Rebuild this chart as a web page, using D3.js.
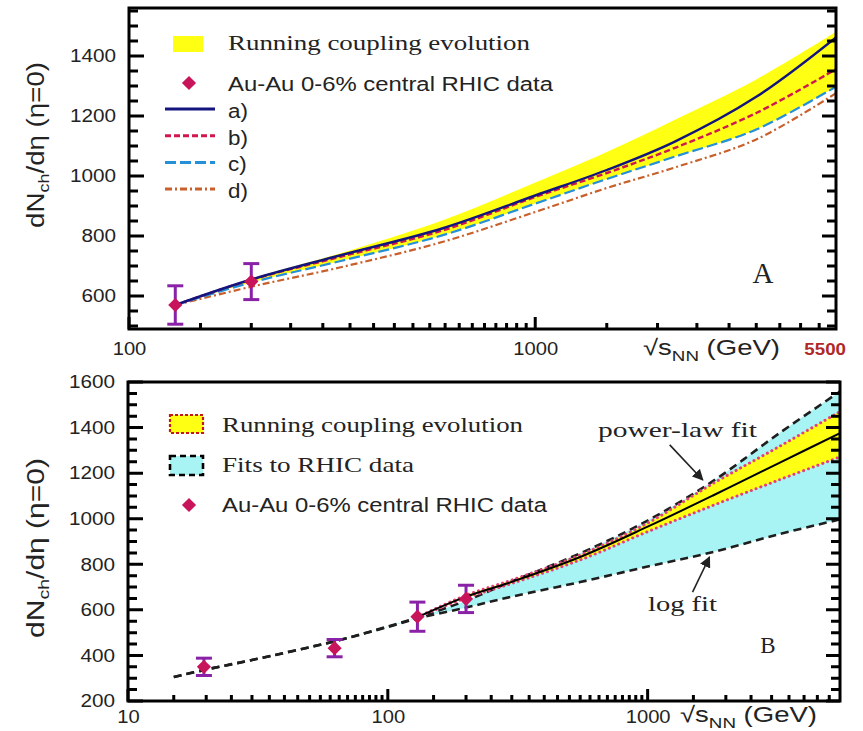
<!DOCTYPE html>
<html>
<head>
<meta charset="utf-8">
<script src="https://cdn.jsdelivr.net/npm/d3@7"></script>
<style>
  body { margin: 0; background: #fff; }
  text { fill: #232323; }
</style>
</head>
<body>
<svg id="chart" width="863" height="731"></svg>
<script>
// ---------- data ----------
// RHIC Au-Au 0-6% central: sqrt(s_NN) [GeV], dN_ch/deta at eta=0, error
const rhicEnergy = [19.6, 62.4, 130, 200];
const rhicMult   = [350, 432, 570, 648];
const rhicErr    = [38, 38, 64, 60];

// Panel A: running coupling evolution curves
const evoEnergy = [130, 200, 330, 590, 1000, 1500, 2200, 3500, 5500];
const curveA    = [570, 655, 735, 825, 935, 1020, 1114, 1264, 1462];
const curveB    = [570, 654, 730, 818, 930, 1010, 1093, 1210, 1356];
const curveC    = [570, 645, 716, 802, 908, 990, 1064, 1155, 1298];
const curveD    = [570, 631, 695, 780, 880, 960, 1028, 1122, 1276];
const bandHighA = [570, 658, 742, 852, 978, 1080, 1187, 1322, 1481];
const bandLowA  = [570, 645, 716, 802, 908, 990, 1064, 1155, 1298];

// Panel B: fits to RHIC data
const fitEnergy = [15, 20, 30, 62.4, 100, 130, 200, 300, 550, 1000, 1800, 3200, 5500];
const logFit    = [305, 338, 380, 462, 525, 562, 610, 658, 722, 790, 855, 932, 997];
const powerFit  = [305, 338, 380, 462, 527, 566, 640, 725, 848, 992, 1168, 1374, 1558];

// Panel B: running coupling band
const rcEnergy  = [130, 200, 300, 550, 1000, 1800, 3200, 5500];
const rcUpper   = [568, 664, 731, 841, 981, 1157, 1316, 1470];
const rcCentral = [568, 658, 723, 832, 965, 1104, 1244, 1376];
const rcLower   = [568, 652, 716, 819, 943, 1060, 1170, 1271];

// tick labels
const topYTicks    = [600, 800, 1000, 1200, 1400];
const topXTicks    = [100, 1000];
const bottomYTicks = [200, 400, 600, 800, 1000, 1200, 1400, 1600];
const bottomXTicks = [10, 100, 1000];

// ---------- helpers ----------
const svg = d3.select("#chart");
const SANS = "'Liberation Sans', Arial, sans-serif";
const SERIF = "'Liberation Serif', 'Times New Roman', serif";

function stretch(sel, k) {
  sel.each(function () {
    const w = this.getComputedTextLength();
    d3.select(this).attr("textLength", w * k).attr("lengthAdjust", "spacingAndGlyphs");
  });
}
function fitWidth(sel, w) {
  sel.attr("textLength", w).attr("lengthAdjust", "spacingAndGlyphs");
}
// minor ticks on a log axis: 1.5, 2, ..., 9.5 times each decade
function logMinor(lo, hi) {
  const out = [];
  for (let p = Math.floor(Math.log10(lo)); p <= Math.ceil(Math.log10(hi)); p++) {
    const base = Math.pow(10, p);
    for (let m = 1.5; m < 10; m += 0.5) {
      const v = m * base;
      if (v > lo && v < hi) out.push(v);
    }
  }
  return out;
}
function linMinor(lo, hi, step) {
  const out = [];
  for (let v = Math.ceil(lo / step) * step; v <= hi; v += step) out.push(v);
  return out;
}
const diamond = d3.symbol(d3.symbolSquare, 100);

function drawAxes(x, y, yTicks, xTicks, yDomain, xDomain, xPad) {
  const xr = x.range(), yr = y.range();
  const left0 = xr[0], right0 = xr[1], base0 = yr[0], top0 = yr[1];
  const yMinor = linMinor(yDomain[0], yDomain[1], 50).filter(v => yTicks.indexOf(v) < 0);
  const xMinor = logMinor(xDomain[0], xDomain[1]);

  // tick marks pointing into the frame on the left, right and bottom sides
  const tp = d3.path();
  yTicks.forEach(v => {
    const yy = y(v);
    tp.moveTo(left0, yy); tp.lineTo(left0 + 15, yy);
    tp.moveTo(right0, yy); tp.lineTo(right0 - 14, yy);
  });
  yMinor.forEach(v => {
    const yy = y(v);
    tp.moveTo(left0, yy); tp.lineTo(left0 + 9, yy);
    tp.moveTo(right0, yy); tp.lineTo(right0 - 9, yy);
  });
  xTicks.forEach(v => { const xx = x(v); tp.moveTo(xx, base0); tp.lineTo(xx, base0 - 12); });
  xMinor.forEach(v => { const xx = x(v); tp.moveTo(xx, base0); tp.lineTo(xx, base0 - 6); });
  svg.append("path").attr("d", tp.toString())
    .attr("fill", "none").attr("stroke", "#000").attr("stroke-width", 3);

  // frame
  svg.append("rect").attr("x", left0).attr("y", top0).attr("width", right0 - left0).attr("height", base0 - top0)
    .attr("fill", "none").attr("stroke", "#000").attr("stroke-width", 3);

  // tick labels through the library's axes
  const left = svg.append("g").attr("transform", `translate(${left0},0)`)
    .call(d3.axisLeft(y).tickValues(yTicks).tickSize(0).tickPadding(13).tickFormat(d3.format("d")));
  left.selectAll("text").attr("font-family", SANS).attr("font-size", 18).attr("fill", "#2a2a2a");
  stretch(left.selectAll("text"), 1.15);
  const bot = svg.append("g").attr("transform", `translate(0,${base0})`)
    .call(d3.axisBottom(x).tickValues(xTicks).tickSize(0).tickPadding(xPad).tickFormat(d3.format("d")));
  bot.selectAll("text").attr("font-family", SANS).attr("font-size", 18).attr("fill", "#2a2a2a");
  stretch(bot.selectAll("text"), 1.12);
  left.select(".domain").remove();
  bot.select(".domain").remove();
}

function drawRhic(g, x, y, minE) {
  const pts = rhicEnergy.map((e, i) => ({ e, v: rhicMult[i], err: rhicErr[i] })).filter(d => d.e >= minE);
  const eb = g.append("g").attr("stroke", "#8a22a8").attr("stroke-width", 3).attr("fill", "none");
  pts.forEach(d => {
    const cx = x(d.e), yt = y(d.v + d.err), yb = y(d.v - d.err);
    eb.append("line").attr("x1", cx).attr("x2", cx).attr("y1", yt).attr("y2", yb);
    eb.append("line").attr("x1", cx - 8).attr("x2", cx + 8).attr("y1", yt).attr("y2", yt);
    eb.append("line").attr("x1", cx - 8).attr("x2", cx + 8).attr("y1", yb).attr("y2", yb);
  });
  g.selectAll(".pt").data(pts).join("path").attr("class", "pt")
    .attr("d", diamond)
    .attr("transform", d => `translate(${x(d.e)},${y(d.v)}) rotate(45)`)
    .attr("fill", "#c8145a");
}

function yLabel(cx, cy, len) {
  const t = svg.append("text").attr("transform", `translate(${cx},${cy}) rotate(-90)`)
    .attr("text-anchor", "middle").attr("font-family", SANS).attr("font-size", 23).attr("fill", "#222");
  t.append("tspan").text("dN");
  t.append("tspan").text("ch").attr("font-size", 15).attr("dy", 5);
  t.append("tspan").text("/dη (η=0)").attr("dy", -5);
  fitWidth(t, len);
}
function xLabel(x0, base, len) {
  const t = svg.append("text").attr("x", x0).attr("y", base)
    .attr("font-family", SANS).attr("font-size", 22).attr("fill", "#222");
  t.append("tspan").text("√s");
  t.append("tspan").text("NN").attr("font-size", 15).attr("dy", 6);
  t.append("tspan").text(" (GeV)").attr("dy", -6);
  fitWidth(t, len);
}

// ---------- panel A ----------
const xA = d3.scaleLog().domain([100, 5500]).range([129, 836]);
const yA = d3.scaleLinear().domain([490, 1560]).range([329, 8]);
const gA = svg.append("g");
svg.append("clipPath").attr("id", "clipA").append("rect")
  .attr("x", 129).attr("y", 8).attr("width", 707).attr("height", 321);
const plotA = gA.append("g").attr("clip-path", "url(#clipA)");
const smooth = d3.curveCatmullRom.alpha(0.5);

const areaA = d3.area().curve(smooth)
  .x((d, i) => xA(evoEnergy[i])).y0((d, i) => yA(bandLowA[i])).y1((d, i) => yA(bandHighA[i]));
plotA.append("path").datum(evoEnergy).attr("d", areaA).attr("fill", "#ffff14");

const lineA = arr => d3.line().curve(smooth)
  .x((d, i) => xA(evoEnergy[i])).y((d, i) => yA(arr[i]))(evoEnergy);
const seriesA = [
  { name: "a)", data: curveA, color: "#14147e", dash: null, w: 2.4 },
  { name: "b)", data: curveB, color: "#d0184e", dash: "6,3", w: 2.4 },
  { name: "c)", data: curveC, color: "#2590d8", dash: "11,4", w: 2.2 },
  { name: "d)", data: curveD, color: "#c8602c", dash: "7,3,2,3", w: 2.2 }
];
seriesA.slice().reverse().forEach(s => {
  plotA.append("path").attr("d", lineA(s.data)).attr("fill", "none")
    .attr("stroke", s.color).attr("stroke-width", s.w).attr("stroke-dasharray", s.dash);
});
drawRhic(plotA, xA, yA, 100);
drawAxes(xA, yA, topYTicks, topXTicks, [490, 1560], [100, 5500], 13);

// legend A
gA.append("rect").attr("x", 173).attr("y", 36).attr("width", 30).attr("height", 16).attr("fill", "#ffff14");
fitWidth(gA.append("text").attr("x", 228).attr("y", 50).attr("font-family", SERIF).attr("font-size", 22)
  .text("Running coupling evolution"), 302);
gA.append("path").attr("d", diamond).attr("transform", "translate(189,83) rotate(45)").attr("fill", "#c8145a");
fitWidth(gA.append("text").attr("x", 228).attr("y", 91).attr("font-family", SANS).attr("font-size", 20)
  .text("Au-Au 0-6% central RHIC data"), 325);
seriesA.forEach((s, i) => {
  const ly = 109 + i * 26.7;
  gA.append("line").attr("x1", 165).attr("x2", 215).attr("y1", ly).attr("y2", ly)
    .attr("stroke", s.color).attr("stroke-width", 3).attr("stroke-dasharray", s.dash);
  stretch(gA.append("text").attr("x", 228).attr("y", ly + 9).attr("font-family", SANS).attr("font-size", 20)
    .text(s.name), 1.12);
});
gA.append("text").attr("x", 763).attr("y", 283).attr("text-anchor", "middle")
  .attr("font-family", SERIF).attr("font-size", 29).text("A");
xLabel(643, 355, 137);
stretch(svg.append("text").attr("x", xA(5500) + 10).attr("y", 355).attr("text-anchor", "end")
  .attr("font-family", SANS).attr("font-size", 17).attr("font-weight", "bold").style("fill", "#b02828")
  .text("5500"), 1.1);
yLabel(44, 145, 166);

// ---------- panel B ----------
const xB = d3.scaleLog().domain([10, 5500]).range([128, 840]);
const yB = d3.scaleLinear().domain([200, 1600]).range([701, 382]);
const gB = svg.append("g");
svg.append("clipPath").attr("id", "clipB").append("rect")
  .attr("x", 128).attr("y", 382).attr("width", 712).attr("height", 319);
const plotB = gB.append("g").attr("clip-path", "url(#clipB)");

const fitArea = d3.area().curve(smooth)
  .x((d, i) => xB(fitEnergy[i])).y0((d, i) => yB(logFit[i])).y1((d, i) => yB(powerFit[i]));
plotB.append("path").datum(fitEnergy).attr("d", fitArea).attr("fill", "#a8f4f4");
const rcArea = d3.area().curve(smooth)
  .x((d, i) => xB(rcEnergy[i])).y0((d, i) => yB(rcLower[i])).y1((d, i) => yB(rcUpper[i]));
plotB.append("path").datum(rcEnergy).attr("d", rcArea).attr("fill", "#ffff14");

const fitLine = arr => d3.line().curve(smooth)
  .x((d, i) => xB(fitEnergy[i])).y((d, i) => yB(arr[i]))(fitEnergy);
const rcLine = arr => d3.line().curve(smooth)
  .x((d, i) => xB(rcEnergy[i])).y((d, i) => yB(arr[i]))(rcEnergy);
[logFit, powerFit].forEach(arr => {
  plotB.append("path").attr("d", fitLine(arr)).attr("fill", "none")
    .attr("stroke", "#1e1e1e").attr("stroke-width", 2.6).attr("stroke-dasharray", "8,5");
});
[rcUpper, rcLower].forEach(arr => {
  plotB.append("path").attr("d", rcLine(arr)).attr("fill", "none")
    .attr("stroke", "#e2407c").attr("stroke-width", 3).attr("stroke-linecap", "round")
    .attr("stroke-dasharray", "0.1,5");
});
plotB.append("path").attr("d", rcLine(rcCentral)).attr("fill", "none")
  .attr("stroke", "#000").attr("stroke-width", 2);
drawRhic(plotB, xB, yB, 10);
drawAxes(xB, yB, bottomYTicks, bottomXTicks, [200, 1600], [10, 5500], 9);

// legend B
gB.append("rect").attr("x", 170).attr("y", 415).attr("width", 33).attr("height", 18)
  .attr("fill", "#ffff14").attr("stroke", "#c41818").attr("stroke-width", 2.2).attr("stroke-dasharray", "3,2");
fitWidth(gB.append("text").attr("x", 222).attr("y", 432).attr("font-family", SERIF).attr("font-size", 22)
  .text("Running coupling evolution"), 301);
gB.append("rect").attr("x", 170).attr("y", 456).attr("width", 33).attr("height", 19)
  .attr("fill", "#a8f4f4").attr("stroke", "#000").attr("stroke-width", 2.6).attr("stroke-dasharray", "6,4");
fitWidth(gB.append("text").attr("x", 222).attr("y", 472).attr("font-family", SERIF).attr("font-size", 22)
  .text("Fits to RHIC data"), 192);
gB.append("path").attr("d", diamond).attr("transform", "translate(189,505) rotate(45)").attr("fill", "#c8145a");
fitWidth(gB.append("text").attr("x", 222).attr("y", 512).attr("font-family", SANS).attr("font-size", 20)
  .text("Au-Au 0-6% central RHIC data"), 325);

// annotations
svg.append("defs").append("marker").attr("id", "arrow").attr("viewBox", "0 0 10 10")
  .attr("refX", 9).attr("refY", 5).attr("markerWidth", 7).attr("markerHeight", 7).attr("orient", "auto")
  .append("path").attr("d", "M0,0 L10,5 L0,10 z").attr("fill", "#222");
fitWidth(gB.append("text").attr("x", 598).attr("y", 437).attr("font-family", SERIF).attr("font-size", 22)
  .text("power-law fit"), 159);
gB.append("line").attr("x1", xB(1216)).attr("y1", yB(1324)).attr("x2", xB(1630)).attr("y2", yB(1170))
  .attr("stroke", "#222").attr("stroke-width", 1.6).attr("marker-end", "url(#arrow)");
fitWidth(gB.append("text").attr("x", 648).attr("y", 611).attr("font-family", SERIF).attr("font-size", 22)
  .text("log fit"), 69);
gB.append("line").attr("x1", xB(1489)).attr("y1", yB(678)).attr("x2", xB(1730)).attr("y2", yB(832))
  .attr("stroke", "#222").attr("stroke-width", 1.6).attr("marker-end", "url(#arrow)");
gB.append("text").attr("x", 768).attr("y", 653).attr("text-anchor", "middle")
  .attr("font-family", SERIF).attr("font-size", 23).text("B");
xLabel(680, 722, 137);
yLabel(44, 548, 180);
</script>
</body>
</html>
